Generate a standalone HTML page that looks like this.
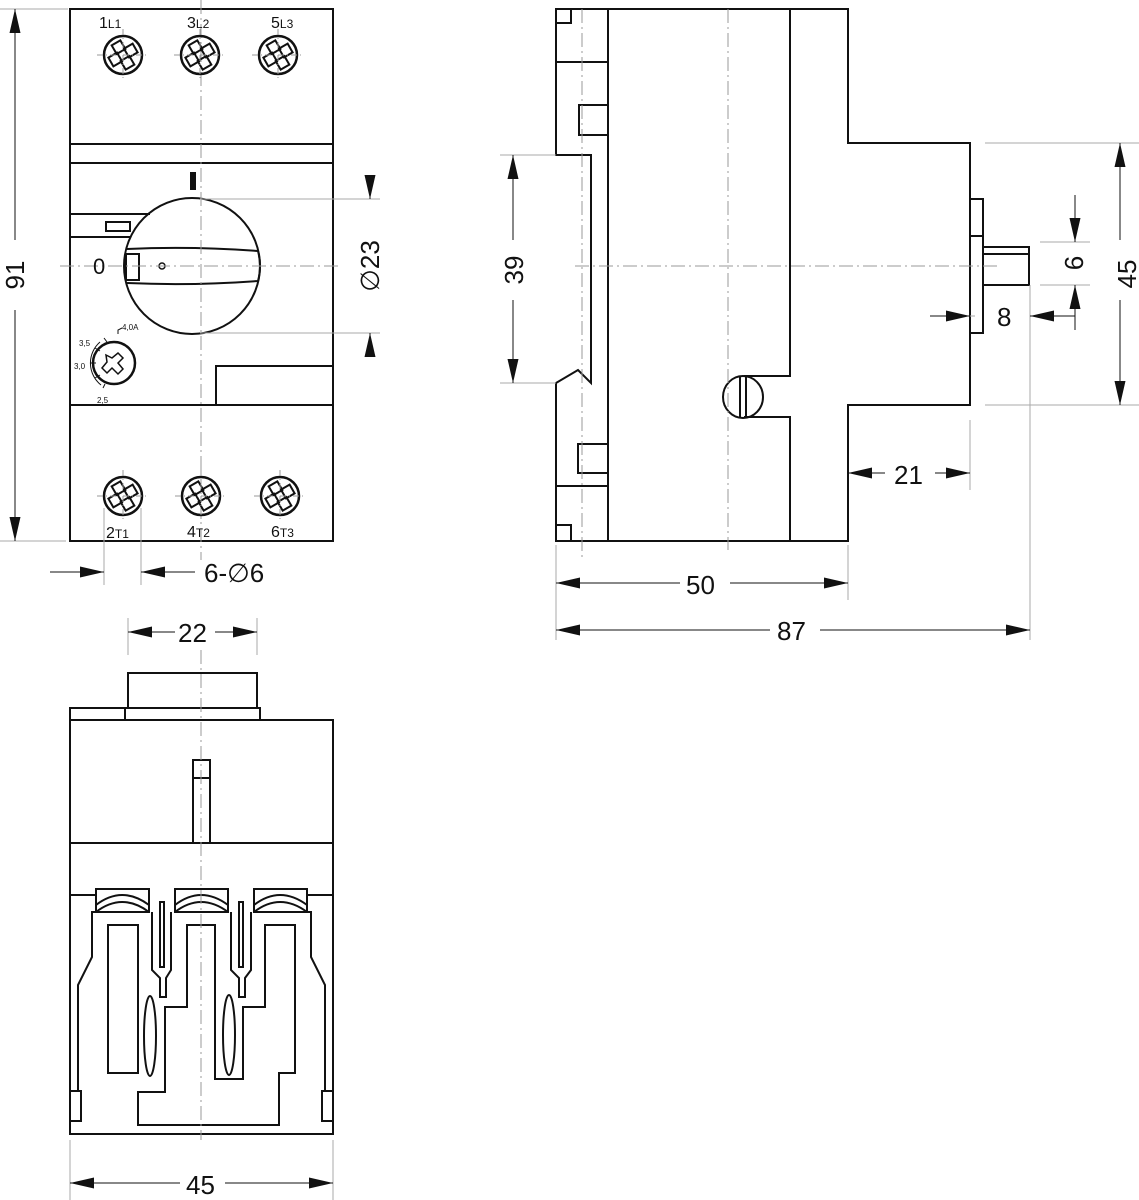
<!DOCTYPE html><html><head><style>body{margin:0;background:#fff}svg{display:block}text{font-family:"Liberation Sans",sans-serif;fill:#111}</style></head><body>
<svg width="1139" height="1200" viewBox="0 0 1139 1200" xmlns="http://www.w3.org/2000/svg">
<defs>
<marker id="b" markerWidth="24" markerHeight="11" refX="24" refY="5.5" orient="auto-start-reverse" markerUnits="userSpaceOnUse" viewBox="0 0 24 11"><path d="M0,0L24,5.5L0,11z" fill="#111"/></marker>
<g id="term"><circle r="19" fill="none" stroke="#111" stroke-width="2.5"/><g fill="none" stroke="#111" stroke-width="2" transform="rotate(-30)"><rect x="-5" y="-14" width="10" height="10"/><rect x="-5" y="4" width="10" height="10"/><rect x="-14" y="-5" width="10" height="10"/><rect x="4" y="-5" width="10" height="10"/></g><path d="M-26,0H26M0,-26V26" stroke="#999" stroke-width="1" stroke-dasharray="6,3,1,3"/></g>
</defs>
<g fill="none" stroke="#111" stroke-width="2">
<!-- front view -->
<rect x="70" y="9" width="263" height="532"/>
<path d="M70,144H333M70,163H333M70,405H333M70,214H150M70,237H130"/>
<rect x="106" y="222" width="24" height="9"/>
<circle cx="192" cy="266" r="68"/>
<path d="M126,249Q192,246 258,251Q262,266 258,281Q192,286 126,283"/>
<rect x="126" y="254" width="13" height="26"/>
<circle cx="162" cy="266" r="3" stroke-width="1.5"/>
<rect x="216" y="366" width="117" height="39"/>
<circle cx="114" cy="363" r="21" stroke-width="2.5"/>
<path d="M106,355l6,3 6,-5 5,5 -5,5 5,6 -5,5 -6,-6 -5,5 -5,-5 5,-6z" stroke-width="1.5"/>
<path d="M100,342A28,28 0 0 0 101,385M95,348l5,3M90,363h6M95,378l5,-3M104,338l3,4M103,388l2,-4M118,334l0,-4 4,-2" stroke-width="1"/>
<!-- side view -->
<path d="M556,9H848V143H970V405H848V541H556V383L578,370L591,383V155H556Z"/>
<path d="M608,9V541M556,62H608M556,486H608"/>
<rect x="556" y="9" width="15" height="14"/>
<rect x="556" y="525" width="15" height="16"/>
<rect x="579" y="105" width="29" height="30"/>
<rect x="578" y="444" width="30" height="29"/>
<path d="M790,9V376H744M790,541V417H744"/>
<ellipse cx="743" cy="397" rx="20" ry="21"/>
<path d="M740,376V417M746,376V417"/>
<rect x="970" y="199" width="13" height="134"/>
<path d="M970,236H983"/>
<rect x="983" y="247" width="46" height="38"/>
<path d="M983,254H1029"/>
<!-- bottom view -->
<rect x="70" y="720" width="263" height="414"/>
<rect x="128" y="673" width="129" height="35"/>
<path d="M70,720V708H125V720M125,708H260V720"/>
<path d="M70,843H333M70,895H96M307,895H333"/>
<rect x="193" y="760" width="17" height="83"/><path d="M193,778H210"/>
<rect x="96" y="889" width="53" height="23"/><rect x="175" y="889" width="53" height="23"/><rect x="254" y="889" width="53" height="23"/>
<path d="M96,905Q122,885 149,905M96,912Q122,892 149,912M175,905Q201,885 228,905M175,912Q201,892 228,912M254,905Q280,885 307,905M254,912Q280,892 307,912"/>
<path d="M96,912H92V957L78,985V1092M307,912H311V957L325,985V1092"/>
<rect x="108" y="925" width="30" height="148"/>
<path d="M152,912V970L160,978V997H166V978L171,970V912M231,912V970L239,978V997H245V978L251,970V912"/>
<rect x="160" y="902" width="4" height="65"/><rect x="239" y="902" width="4" height="65"/>
<ellipse cx="150" cy="1036" rx="6" ry="40"/><ellipse cx="229" cy="1035" rx="6" ry="40"/>
<path d="M138,1125V1092H165V1007H187V925H215V1079H243V1007H265V925H295V1073H279V1125Z"/>
<rect x="70" y="1091" width="11" height="30"/><rect x="322" y="1091" width="11" height="30"/>
</g>
<rect x="190" y="172" width="6" height="18" fill="#111"/>
<g stroke="#999" stroke-width="1" stroke-dasharray="14,4,2,4" fill="none">
<path d="M201,0V560M60,266H340M582,9V560M575,266H1000M201,650V1140M728,9V550"/>
</g>
<use href="#term" x="123" y="55"/><use href="#term" x="200" y="55"/><use href="#term" x="278" y="55"/>
<use href="#term" x="123" y="496"/><use href="#term" x="201" y="496"/><use href="#term" x="280" y="496"/>
<g font-size="16"><text x="99" y="28">1<tspan font-size="12">L1</tspan></text><text x="187" y="28">3<tspan font-size="12">L2</tspan></text><text x="271" y="28">5<tspan font-size="12">L3</tspan></text>
<text x="106" y="538">2<tspan font-size="12">T1</tspan></text><text x="187" y="537">4<tspan font-size="12">T2</tspan></text><text x="271" y="537">6<tspan font-size="12">T3</tspan></text></g>
<text x="93" y="274" font-size="22">0</text>
<g font-size="8"><text x="122" y="330">4,0A</text><text x="79" y="346">3,5</text><text x="74" y="369">3,0</text><text x="97" y="403">2,5</text></g>
<g stroke="#aaa" stroke-width="1" fill="none">
<path d="M0,9H68M0,541H66M200,199H380M200,333H380M104,508V585M141,508V585M128,618V655M257,618V655M500,155H556M500,383H556M985,143H1139M985,405H1139M1040,242H1090M1040,285H1090M930,316H975M970,420V490M556,545V640M848,545V600M1030,285V640M70,1140V1200M333,1140V1200"/>
</g>
<g stroke="#111" stroke-width="1" fill="none">
<path d="M15,28V240M15,310V522" />
<path d="M15,30V9" marker-end="url(#b)"/><path d="M15,520V541" marker-end="url(#b)"/>
<path d="M370,180V199" marker-end="url(#b)"/><path d="M370,355V333" marker-end="url(#b)"/>
<path d="M50,572H104" marker-end="url(#b)"/><path d="M195,572H141" marker-end="url(#b)"/>
<path d="M175,632H128" marker-end="url(#b)"/><path d="M215,632H257" marker-end="url(#b)"/>
<path d="M513,240V155" marker-end="url(#b)"/><path d="M513,300V383" marker-end="url(#b)"/>
<path d="M1120,240V143" marker-end="url(#b)"/><path d="M1120,300V405" marker-end="url(#b)"/>
<path d="M1075,195V242" marker-end="url(#b)"/><path d="M1075,330V285" marker-end="url(#b)"/>
<path d="M930,316H970" marker-end="url(#b)"/><path d="M1075,316H1030" marker-end="url(#b)"/>
<path d="M885,473H848" marker-end="url(#b)"/><path d="M935,473H970" marker-end="url(#b)"/>
<path d="M680,583H556" marker-end="url(#b)"/><path d="M730,583H848" marker-end="url(#b)"/>
<path d="M770,630H556" marker-end="url(#b)"/><path d="M820,630H1030" marker-end="url(#b)"/>
<path d="M180,1183H70" marker-end="url(#b)"/><path d="M225,1183H333" marker-end="url(#b)"/>
</g>
<g font-size="26">
<text transform="translate(24,275) rotate(-90)" text-anchor="middle">91</text>
<text transform="translate(379,266) rotate(-90)" text-anchor="middle">∅23</text>
<text x="204" y="582">6-∅6</text>
<text x="178" y="642">22</text>
<text transform="translate(523,270) rotate(-90)" text-anchor="middle">39</text>
<text transform="translate(1136,274) rotate(-90)" text-anchor="middle">45</text>
<text transform="translate(1083,263) rotate(-90)" text-anchor="middle">6</text>
<text x="997" y="326">8</text>
<text x="894" y="484">21</text>
<text x="686" y="594">50</text>
<text x="777" y="640">87</text>
<text x="186" y="1194">45</text>
</g>
</svg>
</body></html>
